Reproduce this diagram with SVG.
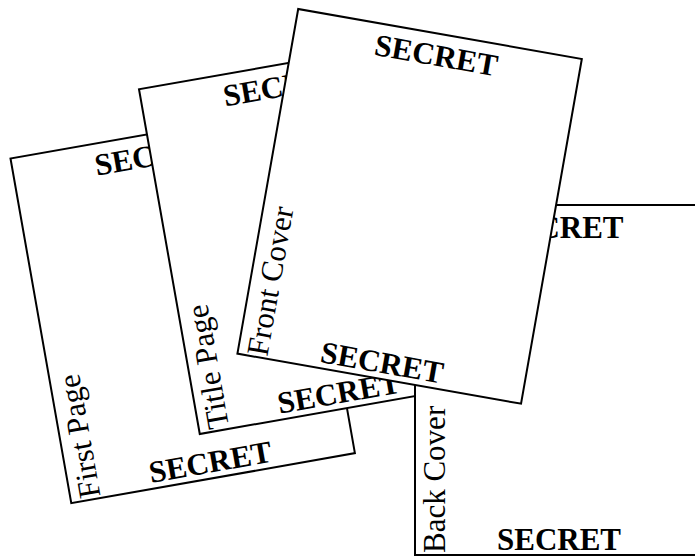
<svg xmlns="http://www.w3.org/2000/svg" width="695" height="557" viewBox="0 0 695 557">
<style>
.page rect { fill:#fff; stroke:#000; stroke-width:2 }
.sec { font-family:"Liberation Serif","Times New Roman",serif; font-weight:bold; font-size:31px; text-anchor:middle; fill:#000 }
.lbl { font-family:"Liberation Serif","Times New Roman",serif; font-size:31px; fill:#000 }
</style>
<rect width="695" height="557" fill="#fff"/>
<g id="first-page" class="page" transform="translate(10.5,158.5) rotate(-10)">
<rect width="288" height="350"/>
<text class="sec" x="144" y="32">SECRET</text>
<text class="sec" x="144" y="344">SECRET</text>
<text class="lbl" transform="translate(30,348) rotate(-90)">First Page</text>
</g>
<g id="title-page" class="page" transform="translate(139,89.3) rotate(-10)">
<rect width="288" height="350"/>
<text class="sec" x="144" y="32">SECRET</text>
<text class="sec" x="144" y="344">SECRET</text>
<text class="lbl" transform="translate(30,348) rotate(-90)">Title Page</text>
</g>
<g id="back-cover" class="page" transform="translate(415,205)">
<rect width="288" height="350"/>
<text class="sec" x="146.5" y="33">SECRET</text>
<text class="sec" x="144" y="345">SECRET</text>
<text class="lbl" transform="translate(30,348) rotate(-90)">Back Cover</text>
</g>
<g id="front-cover" class="page" transform="translate(298.2,9) rotate(10)">
<rect width="288" height="350"/>
<text class="sec" x="144" y="32">SECRET</text>
<text class="sec" x="144" y="344">SECRET</text>
<text class="lbl" transform="translate(30,348) rotate(-90)">Front Cover</text>
</g>
<g id="connectors"/>
</svg>
